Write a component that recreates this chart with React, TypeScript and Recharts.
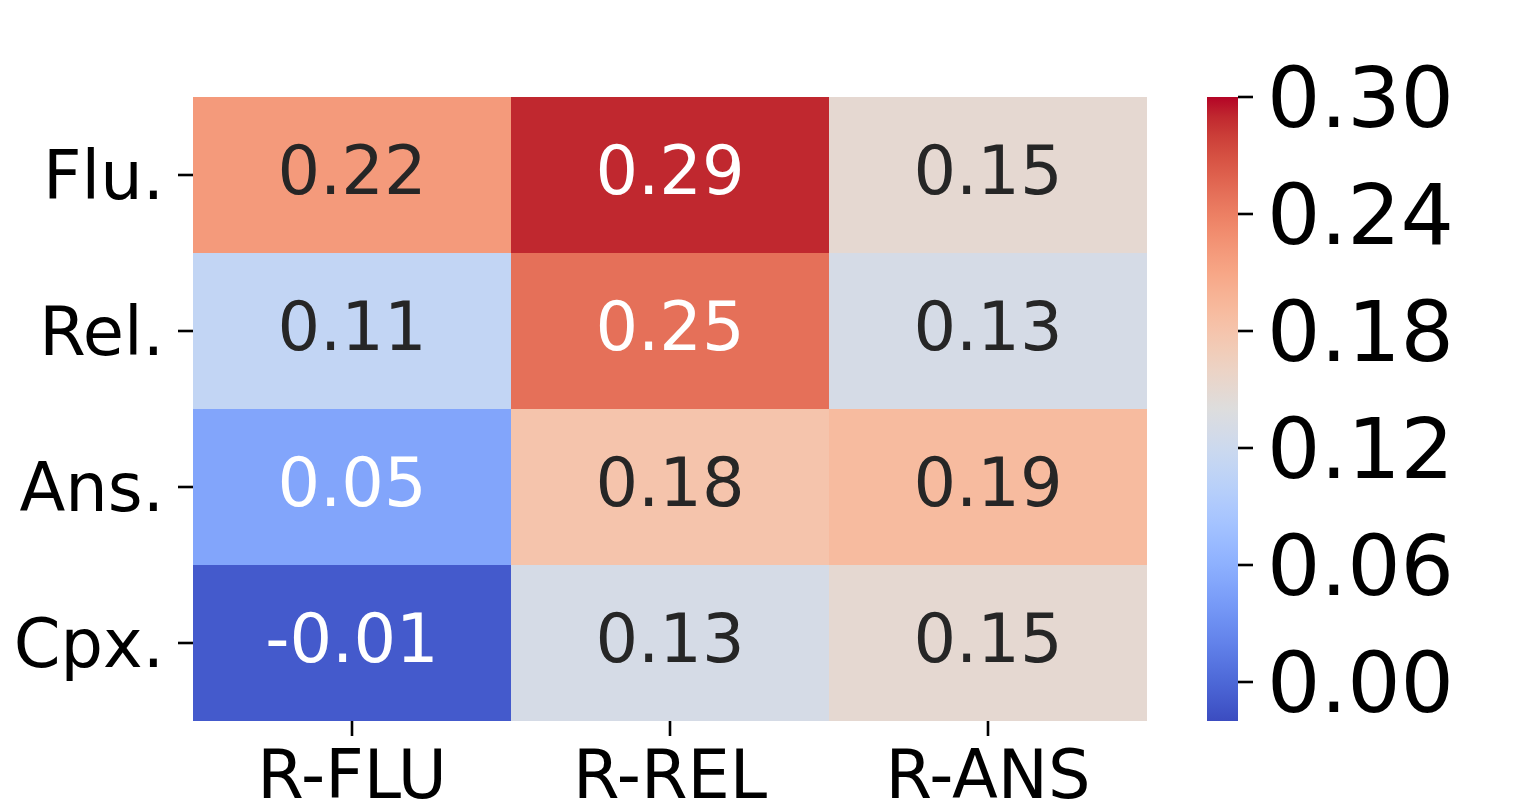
import React from "react"
import { BarChart, Bar, XAxis, YAxis, Cell, LabelList } from "recharts"

const columns = ["R-FLU", "R-REL", "R-ANS"]
const rows = ["Flu.", "Rel.", "Ans.", "Cpx."]
const fluValues = [0.22, 0.29, 0.15]
const relValues = [0.11, 0.25, 0.13]
const ansValues = [0.05, 0.18, 0.19]
const cpxValues = [-0.01, 0.13, 0.15]
const colorbarTicks = [0, 0.06, 0.12, 0.18, 0.24, 0.3]
const vmin = -0.02
const vmax = 0.3

// coolwarm (Moreland), 33 evenly spaced samples
const coolwarm = [
  [59, 76, 192], [68, 90, 204], [77, 104, 215], [87, 117, 225], [98, 130, 234],
  [108, 142, 241], [119, 154, 247], [130, 165, 251], [141, 176, 254], [152, 185, 255],
  [163, 194, 255], [174, 201, 253], [184, 208, 249], [194, 213, 244], [204, 217, 238],
  [213, 219, 230], [221, 221, 221], [229, 216, 209], [236, 211, 197], [241, 204, 184],
  [245, 196, 172], [247, 187, 159], [247, 177, 147], [247, 166, 134], [244, 154, 123],
  [241, 141, 111], [236, 127, 99], [229, 112, 89], [222, 96, 77], [213, 80, 66],
  [203, 62, 56], [192, 40, 47], [180, 4, 38],
]

const FONT = "DejaVu Sans, sans-serif"

const rgbStr = (c: number[]) => `rgb(${c[0]},${c[1]},${c[2]})`

const colorFor = (v: number) => {
  const t = Math.max(0, Math.min(1, (v - vmin) / (vmax - vmin))) * (coolwarm.length - 1)
  const i = Math.min(Math.floor(t), coolwarm.length - 2)
  const f = t - i
  const a = coolwarm[i]
  const b = coolwarm[i + 1]
  return a.map((x, k) => Math.round(x + (b[k] - x) * f))
}

const luminance = (rgb: number[]) => {
  const [r, g, b] = rgb.map((x) => {
    const c = x / 255
    return c <= 0.03928 ? c / 12.92 : Math.pow((c + 0.055) / 1.055, 2.4)
  })
  return 0.2126 * r + 0.7152 * g + 0.0722 * b
}

const valuesByRow: Record<string, number[]> = {
  "Flu.": fluValues,
  "Rel.": relValues,
  "Ans.": ansValues,
  "Cpx.": cpxValues,
}

// stacked bottom-up
const stackOrder = [...rows].reverse()

const tableData = columns.map((col) => {
  const d: Record<string, any> = { col }
  rows.forEach((r) => (d[r] = 1))
  return d
})

const makeLabel = (row: string) => (props: any) => {
  const { x, y, width, height, index } = props
  const v = valuesByRow[row][index]
  const fill = luminance(colorFor(v)) > 0.408 ? "#262626" : "#ffffff"
  return (
    <text
      x={x + width / 2}
      y={y + height / 2 + 19}
      textAnchor="middle"
      fontSize={67}
      fontFamily={FONT}
      fill={fill}
    >
      {v.toFixed(2)}
    </text>
  )
}

const tickStyle = { fontSize: 67, fill: "#000", fontFamily: FONT }
const tickLineStyle = { stroke: "#000", strokeWidth: 2.6 }

export default function App() {
  return (
    <div style={{ position: "absolute", left: 0, top: 0, width: 1540, height: 811, background: "#fff" }}>
      <div style={{ position: "absolute", left: 0, top: 0 }}>
        <BarChart
          width={1147}
          height={811}
          data={tableData}
          margin={{ top: 97, right: 0, left: 0, bottom: 0 }}
          barCategoryGap={0}
          barGap={0}
        >
          <XAxis
            dataKey="col"
            interval={0}
            axisLine={false}
            tickSize={15}
            tickMargin={14}
            height={90}
            tick={tickStyle}
            tickLine={tickLineStyle}
          />
          <YAxis
            type="number"
            domain={[0, rows.length]}
            ticks={[0.5, 1.5, 2.5, 3.5]}
            interval={0}
            tickFormatter={(v: number) => stackOrder[Math.floor(v)]}
            axisLine={false}
            width={193}
            tickSize={15}
            tickMargin={14}
            tick={tickStyle}
            tickLine={tickLineStyle}
          />
          {stackOrder.map((row) => (
            <Bar key={row} dataKey={row} stackId="heat" isAnimationActive={false}>
              {columns.map((c, i) => (
                <Cell key={c} fill={rgbStr(colorFor(valuesByRow[row][i]))} />
              ))}
              <LabelList content={makeLabel(row)} />
            </Bar>
          ))}
        </BarChart>
      </div>
      <div style={{ position: "absolute", left: 1207, top: 0 }}>
        <BarChart
          width={333}
          height={811}
          data={[{ name: "cb", range: [vmin, vmax] }]}
          margin={{ top: 97, right: 0, left: 0, bottom: 90 }}
          barCategoryGap={0}
        >
          <defs>
            <linearGradient id="cw" x1="0" y1="1" x2="0" y2="0">
              {coolwarm.map((c, i) => (
                <stop key={i} offset={i / (coolwarm.length - 1)} stopColor={rgbStr(c)} />
              ))}
            </linearGradient>
          </defs>
          <XAxis dataKey="name" hide />
          <YAxis
            type="number"
            orientation="right"
            domain={[vmin, vmax]}
            allowDataOverflow
            ticks={colorbarTicks}
            interval={0}
            tickFormatter={(v: number) => v.toFixed(2)}
            axisLine={false}
            width={302}
            tickSize={15}
            tickMargin={14}
            tick={{ fontSize: 84, fill: "#000", fontFamily: FONT }}
            tickLine={tickLineStyle}
          />
          <Bar dataKey="range" fill="url(#cw)" isAnimationActive={false} />
        </BarChart>
      </div>
    </div>
  )
}
